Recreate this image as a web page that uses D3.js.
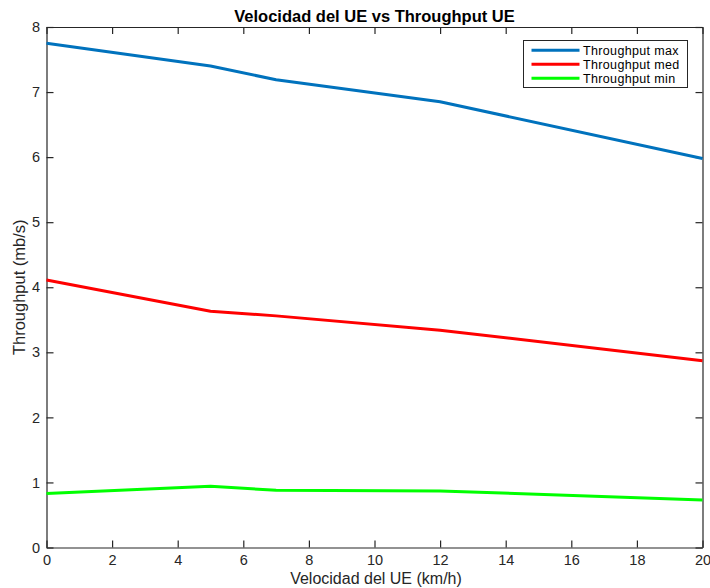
<!DOCTYPE html>
<html>
<head>
<meta charset="utf-8">
<script src="https://cdn.jsdelivr.net/npm/d3@7"></script>
<style>
  html, body { margin: 0; padding: 0; background: #fff; }
  svg { display: block; font-family: "Liberation Sans", Arial, Helvetica, sans-serif; }
</style>
</head>
<body>
<svg id="chart" width="710" height="588"></svg>
<script>
// Speed of the UE (km/h) at each measurement
const velocidad = [0, 5, 7, 12, 20];
// Throughput (mb/s) for each speed
const throughputMax = [7.75, 7.40, 7.19, 6.85, 5.98];
const throughputMed = [4.11, 3.63, 3.56, 3.34, 2.87];
const throughputMin = [0.83, 0.94, 0.88, 0.87, 0.73];

const seriesNames = ["Throughput max", "Throughput med", "Throughput min"];
const seriesColors = ["#0072BD", "#FF0000", "#00FF00"];
const xTicks = [0, 2, 4, 6, 8, 10, 12, 14, 16, 18, 20];
const yTicks = [0, 1, 2, 3, 4, 5, 6, 7, 8];

const svg = d3.select("#chart");
const plotLeft = 46.5, plotRight = 702.5, plotTop = 27, plotBottom = 547.5;

const x = d3.scaleLinear().domain([0, 20]).range([plotLeft, plotRight]);
const y = d3.scaleLinear().domain([0, 8]).range([plotBottom, plotTop]);

const axisColor = "#262626";
const tickLen = 7;
const fontStack = "Liberation Sans, Arial, Helvetica, sans-serif";

// Box axes with inward ticks on all four sides
const gx = svg.append("g").attr("transform", `translate(0,${plotBottom})`)
  .call(d3.axisBottom(x).tickValues(xTicks).tickSizeInner(-tickLen).tickSizeOuter(0));
const gxTop = svg.append("g").attr("transform", `translate(0,${plotTop})`)
  .call(d3.axisTop(x).tickValues(xTicks).tickSizeInner(-tickLen).tickSizeOuter(0).tickFormat(""));
const gy = svg.append("g").attr("transform", `translate(${plotLeft},0)`)
  .call(d3.axisLeft(y).tickValues(yTicks).tickSizeInner(-tickLen).tickSizeOuter(0).tickPadding(6.5));
const gyRight = svg.append("g").attr("transform", `translate(${plotRight},0)`)
  .call(d3.axisRight(y).tickValues(yTicks).tickSizeInner(-tickLen).tickSizeOuter(0).tickFormat(""));

[gx, gxTop, gy, gyRight].forEach(g => {
  g.selectAll(".domain").attr("stroke", axisColor).attr("stroke-width", 1.2);
  g.selectAll(".tick line").attr("stroke", axisColor).attr("stroke-width", 1.2);
  g.selectAll(".tick text").attr("fill", "#262626").attr("font-size", 14.5)
    .attr("font-family", fontStack);
});
gx.selectAll(".tick text").attr("y", 17.5).attr("dy", "0");

// Data lines
const line = d3.line().x((d, i) => x(velocidad[i])).y(d => y(d));
[throughputMax, throughputMed, throughputMin].forEach((vals, k) => {
  svg.append("path")
    .datum(vals)
    .attr("fill", "none")
    .attr("stroke", seriesColors[k])
    .attr("stroke-width", 3)
    .attr("stroke-linejoin", "round")
    .attr("d", line);
});

// Title and axis labels
svg.append("text")
  .attr("x", (plotLeft + plotRight) / 2).attr("y", 21.5)
  .attr("text-anchor", "middle").attr("font-weight", "bold").attr("font-size", 16.5)
  .attr("fill", "#000")
  .text("Velocidad del UE vs Throughput UE");

svg.append("text")
  .attr("x", (plotLeft + plotRight) / 2 + 1.5).attr("y", 583.5)
  .attr("text-anchor", "middle").attr("font-size", 16).attr("fill", "#262626")
  .text("Velocidad del UE (km/h)");

svg.append("text")
  .attr("transform", `translate(25,${(plotTop + plotBottom) / 2}) rotate(-90)`)
  .attr("text-anchor", "middle").attr("font-size", 16.5).attr("fill", "#262626")
  .text("Throughput (mb/s)");

// Legend
const lg = svg.append("g");
lg.append("rect")
  .attr("x", 523.5).attr("y", 40.5).attr("width", 164).attr("height", 47)
  .attr("fill", "#fff").attr("stroke", axisColor).attr("stroke-width", 1);
seriesNames.forEach((name, k) => {
  const yy = 50.3 + k * 14;
  lg.append("line")
    .attr("x1", 531.5).attr("x2", 579.5).attr("y1", yy).attr("y2", yy)
    .attr("stroke", seriesColors[k]).attr("stroke-width", 3);
  lg.append("text")
    .attr("x", 583).attr("y", yy + 4.5)
    .attr("font-size", 12.5).attr("letter-spacing", 0.35).attr("fill", "#000")
    .text(name);
});
</script>
</body>
</html>
